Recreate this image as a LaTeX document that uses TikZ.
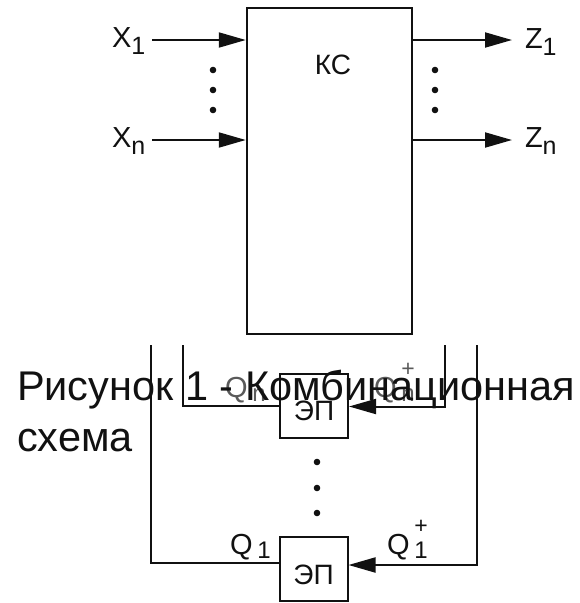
\documentclass[tikz,border=0pt]{standalone}
\usepackage{fontspec}
\setmainfont{Liberation Sans}
\usetikzlibrary{calc,arrows.meta}
\definecolor{ink}{HTML}{111111}
\definecolor{faded}{HTML}{5A5A5A}
\newcommand{\lo}[1]{\raisebox{-7pt}{\fontsize{25}{25}\selectfont #1}}
\newcommand{\qlo}[1]{\raisebox{-4pt}{\fontsize{24}{24}\selectfont #1}}
\newcommand{\qhi}{\makebox[0pt][l]{\raisebox{21pt}{\fontsize{23}{23}\selectfont +}}}

\begin{document}
\begin{tikzpicture}[x=1pt,y=-1pt,line width=2pt,draw=ink,fill=ink,text=ink,
  font=\fontsize{29}{33}\selectfont,
  sig/.style={-{Triangle[length=27pt,width=15pt]}},
  epbox/.style={draw,minimum width=68pt,minimum height=64pt,inner sep=0pt,
    text height=30pt,text depth=0pt,font=\fontsize{28}{32}\selectfont}]
\useasboundingbox (0,0) rectangle (579,603);
% combinational block
\node[draw,line width=2.5pt,minimum width=165pt,minimum height=326pt,inner sep=0pt]
  (ks) at (329.5,171) {};
\node[font=\fontsize{28}{32}\selectfont] (kstext) at (333,65) {КС};
% inputs and outputs
\coordinate (x1) at (152,40);
\coordinate (xn) at (152,140);
\coordinate (z1) at (512,40);
\coordinate (zn) at (512,140);
\draw[sig] (x1) -- (x1 -| ks.west);
\draw[sig] (xn) -- (xn -| ks.west);
\draw[sig] (z1 -| ks.east) -- (z1);
\draw[sig] (zn -| ks.east) -- (zn);
\node[anchor=base west,inner sep=0pt] (x1lab) at (111,47) {X\lo{1}};
\node[anchor=base west,inner sep=0pt] (xnlab) at (111,147) {X\lo{n}};
\node[anchor=base west,inner sep=0pt] (z1lab) at (524,48) {Z\lo{1}};
\node[anchor=base west,inner sep=0pt] (znlab) at (524,147) {Z\lo{n}};
\foreach \y in {70,90,110} {
  \fill (213,\y) circle (3.3);
  \fill (435,\y) circle (3.3);
}
% memory elements
\node[epbox] (epn) at (314,405.5) {ЭП};
\node[epbox] (ep1) at (313.5,569) {ЭП};
\coordinate (fna) at (183,345);
\coordinate (fnb) at (445,345);
\coordinate (f1a) at (151,345);
\coordinate (f1b) at (477,345);
\draw (fna) |- (epn.west);
\draw[sig] (fnb) |- ([yshift=-1pt]epn.east);
\draw (f1a) |- ([yshift=6pt]ep1.west);
\draw[sig] (f1b) |- ([yshift=4pt]ep1.east);
\foreach \y in {462,488,513}
  \fill (317,\y) circle (3.3);
\node[anchor=base west,inner sep=0pt,text=faded] (qnlab) at (224,397) {Q\,\qlo{n}};
\node[anchor=base west,inner sep=0pt,text=faded] (qnplab) at (373,397) {Q\,\qhi\qlo{n}};
\node[anchor=base west,inner sep=0pt] (q1lab) at (229,554) {Q\,\qlo{1}};
\node[anchor=base west,inner sep=0pt] (q1plab) at (386,554) {Q\,\qhi\qlo{1}};
% caption laid over the picture
\node[anchor=base west,align=left,inner sep=0pt,font=\fontsize{41.5}{51}\selectfont]
  (caption) at (16,451) {Рисунок 1 - Комбинационная\\схема};
\end{tikzpicture}
\end{document}
